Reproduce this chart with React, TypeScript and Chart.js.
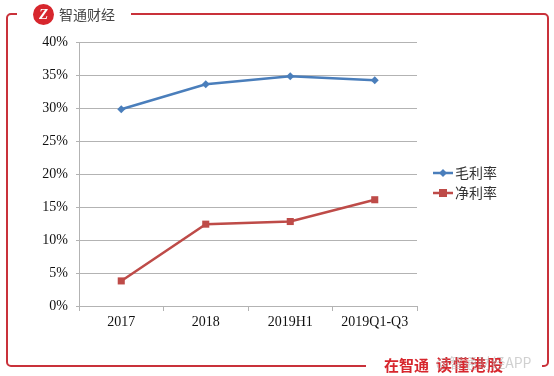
import React, { useEffect, useRef } from "react";
import { Chart, registerables } from "chart.js";

Chart.register(...registerables);

const categories = ["2017", "2018", "2019H1", "2019Q1-Q3"];
const grossMargin = [29.8, 33.6, 34.8, 34.2];
const netMargin = [3.8, 12.4, 12.8, 16.1];
const seriesNames = ["毛利率", "净利率"];
const yTicks = [0, 5, 10, 15, 20, 25, 30, 35, 40];

const RED = "#c9313a";

const legendPlugin = {
  id: "customLegend",
  afterDraw(chart: any) {
    const ctx = chart.ctx;
    const items = [
      { y: 173, ds: 0 },
      { y: 193, ds: 1 },
    ];
    ctx.save();
    items.forEach((it) => {
      const ds = chart.data.datasets[it.ds];
      ctx.strokeStyle = ds.borderColor;
      ctx.lineWidth = 2.5;
      ctx.beginPath();
      ctx.moveTo(433, it.y);
      ctx.lineTo(453, it.y);
      ctx.stroke();
      ctx.fillStyle = ds.backgroundColor;
      if (ds.pointStyle === "rectRot") {
        ctx.beginPath();
        ctx.moveTo(443, it.y - 4);
        ctx.lineTo(447, it.y);
        ctx.lineTo(443, it.y + 4);
        ctx.lineTo(439, it.y);
        ctx.closePath();
        ctx.fill();
      } else {
        ctx.fillRect(439, it.y - 4, 8, 8);
      }
      ctx.fillStyle = "#333";
      ctx.font = '14px "Noto Sans CJK SC", sans-serif';
      ctx.textBaseline = "middle";
      ctx.textAlign = "left";
      ctx.fillText(ds.label, 455, it.y);
    });
    ctx.restore();
  },
};

function ChartCanvas() {
  const ref = useRef<HTMLCanvasElement>(null);
  useEffect(() => {
    const chart = new Chart(ref.current!, {
      type: "line",
      data: {
        labels: categories,
        datasets: [
          {
            label: seriesNames[0],
            data: grossMargin,
            borderColor: "#4a7ebb",
            backgroundColor: "#4a7ebb",
            borderWidth: 2.5,
            pointStyle: "rectRot",
            pointRadius: 4,
            pointBorderWidth: 0,
            tension: 0,
          },
          {
            label: seriesNames[1],
            data: netMargin,
            borderColor: "#be4b48",
            backgroundColor: "#be4b48",
            borderWidth: 2.5,
            pointStyle: "rect",
            pointRadius: 5,
            pointBorderWidth: 0,
            tension: 0,
          },
        ],
      },
      options: {
        animation: false,
        responsive: false,
        maintainAspectRatio: false,
        layout: { padding: { left: 0, right: 137, top: 42, bottom: 0 } },
        plugins: { legend: { display: false }, tooltip: { enabled: false } },
        scales: {
          x: {
            offset: true,
            grid: {
              offset: true,
              drawOnChartArea: false,
              drawTicks: true,
              tickLength: 5,
              color: "#b3b3b3",
            },
            border: { color: "#b3b3b3", width: 1 },
            ticks: {
              color: "#111",
              font: { family: '"Liberation Serif", serif', size: 14 },
              padding: 3,
              maxRotation: 0,
            },
            afterFit(scale: any) {
              scale.height = 70;
            },
          },
          y: {
            min: 0,
            max: 40,
            afterBuildTicks(scale: any) {
              scale.ticks = yTicks.map((v) => ({ value: v }));
            },
            grid: { color: "#b3b3b3", tickLength: 3 },
            border: { color: "#b3b3b3", width: 1 },
            ticks: {
              color: "#111",
              font: { family: '"Liberation Serif", serif', size: 14 },
              padding: 8,
              callback: (v: any) => v + "%",
            },
            afterFit(scale: any) {
              scale.width = 79;
            },
          },
        },
      },
      plugins: [legendPlugin],
    } as any);
    return () => chart.destroy();
  }, []);
  return (
    <canvas
      ref={ref}
      width={554}
      height={376}
      style={{ position: "absolute", left: 0, top: 0, width: 554, height: 376 }}
    />
  );
}

export default function App() {
  return (
    <div
      style={{
        position: "absolute",
        left: 0,
        top: 0,
        width: 554,
        height: 376,
        background: "#fff",
        overflow: "hidden",
      }}
    >
      <div
        style={{
          position: "absolute",
          left: 6,
          top: 13,
          width: 539,
          height: 350,
          border: `2px solid ${RED}`,
          borderRadius: 5,
        }}
      />
      <div style={{ position: "absolute", left: 17, top: 8, width: 114, height: 14, background: "#fff" }} />
      <div style={{ position: "absolute", left: 366, top: 358, width: 176, height: 14, background: "#fff" }} />
      <ChartCanvas />
      <div
        style={{
          position: "absolute",
          left: 33,
          top: 4,
          width: 21,
          height: 21,
          borderRadius: "50%",
          background: "#d7262d",
          color: "#fff",
          fontFamily: '"Liberation Serif", serif',
          fontStyle: "italic",
          fontWeight: "bold",
          fontSize: 15,
          lineHeight: "21px",
          textAlign: "center",
        }}
      >
        Z
      </div>
      <div
        style={{
          position: "absolute",
          left: 59,
          top: 5,
          fontFamily: '"Noto Sans CJK SC", sans-serif',
          fontSize: 14,
          lineHeight: "18px",
          color: "#444",
        }}
      >
        智通财经
      </div>
      <div
        style={{
          position: "absolute",
          left: 384,
          top: 354,
          fontFamily: '"Noto Sans CJK SC", sans-serif',
          fontWeight: "bold",
          fontSize: 15,
          lineHeight: "20px",
          color: "#d7262d",
          whiteSpace: "nowrap",
        }}
      >
        在智通
        <span style={{ marginLeft: 7, letterSpacing: 1, fontSize: 16 }}>读懂港股</span>
      </div>
      <div
        style={{
          position: "absolute",
          left: 436,
          top: 352,
          fontFamily: '"Noto Sans CJK SC", sans-serif',
          fontSize: 14,
          lineHeight: "20px",
          color: "rgba(170,170,170,0.55)",
          whiteSpace: "nowrap",
        }}
      >
        @智通财经APP
      </div>
    </div>
  );
}
